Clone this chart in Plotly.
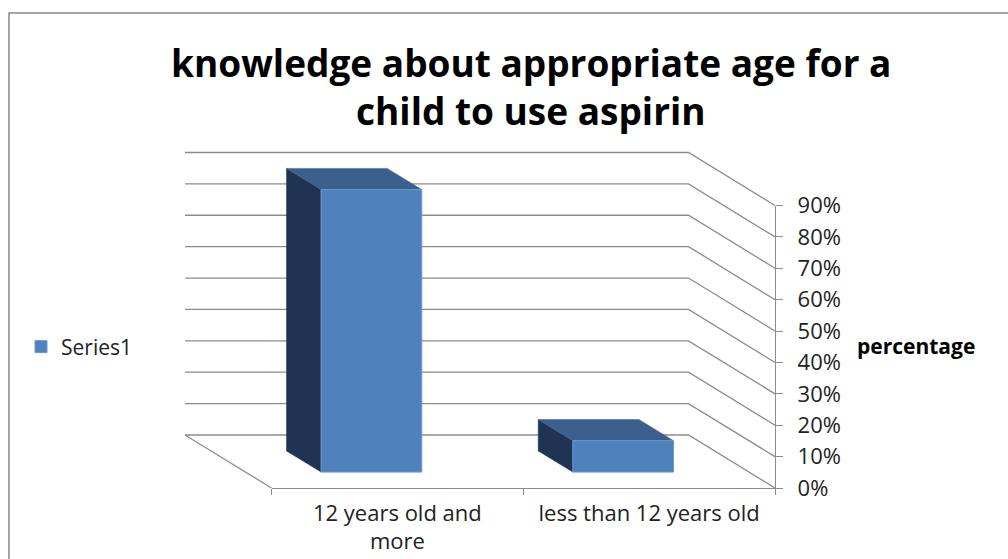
import plotly.graph_objects as go

# ---- data -------------------------------------------------------------
title_lines = ["knowledge about appropriate age for a", "child to use aspirin"]
categories = ["12 years old and<br>more", "less than 12 years old"]
values_pct = [90, 10]
series_name = "Series1"
pct_ticks = [0, 10, 20, 30, 40, 50, 60, 70, 80, 90]
pct_labels = ["0%", "10%", "20%", "30%", "40%", "50%", "60%", "70%", "80%", "90%"]
axis_title = "percentage"

# ---- layout geometry (pixels) -----------------------------------------
W, H = 1008, 559
BACK_LEFT, BACK_RIGHT = 185.0, 688.5      # back wall horizontal extent
FRONT_ZERO, FRONT_TOP = 488.0, 205.5      # front plane 0% and top tick
DEPTH_PX_X, DEPTH_PX_Y = 86.5, 53.0       # oblique depth offset

SX = (BACK_RIGHT - BACK_LEFT) / len(categories)       # px per category
SY = (FRONT_ZERO - FRONT_TOP) / pct_ticks[-1]         # px per percent
BACK_ZERO = FRONT_ZERO - DEPTH_PX_Y

DX = DEPTH_PX_X / SX        # depth offset in category units
DY = DEPTH_PX_Y / SY        # depth offset in percent units

BAR_W = 0.4                 # front face width (category units)
D0, D1 = 0.3, 0.7           # bar depth span (0 = back wall, 1 = front)

FONT = "Open Sans"
GRID = "#8C8C8C"
FRONT_C, TOP_C, SIDE_C = "#4F81BD", "#3B608E", "#1F3452"


def px(x):
    return BACK_LEFT + (x + 0.5) * SX


def py(y):
    return BACK_ZERO - y * SY


# main (back-plane) axes ranges with a little padding
xr = [-0.5 - 0.12, len(categories) - 0.5 + DX + 0.12]
yr = [-DY - 4, pct_ticks[-1] + 4]
xdom = [px(xr[0]) / W, px(xr[1]) / W]
ydom = [1 - py(yr[0]) / H, 1 - py(yr[1]) / H]

fig = go.Figure()

# back wall gridlines continuing along the right side wall
gx, gy = [], []
for v in pct_ticks:
    gx += [-0.5, len(categories) - 0.5, len(categories) - 0.5 + DX, None]
    gy += [v, v, v - DY, None]
# left floor edge
gx += [-0.5, -0.5 + DX, None]
gy += [0, -DY, None]
fig.add_trace(go.Scatter(x=gx, y=gy, mode="lines", line=dict(color=GRID, width=1.3),
                         hoverinfo="skip", showlegend=False))

# side and top faces of each column
for i, v in enumerate(values_pct):
    xl, xrgt = i - BAR_W / 2, i + BAR_W / 2
    side_x = [xl + D0 * DX, xl + D1 * DX, xl + D1 * DX, xl + D0 * DX, xl + D0 * DX]
    side_y = [-D0 * DY, -D1 * DY, v - D1 * DY, v - D0 * DY, -D0 * DY]
    fig.add_trace(go.Scatter(x=side_x, y=side_y, fill="toself", fillcolor=SIDE_C,
                             mode="lines", line=dict(color=SIDE_C, width=0.5),
                             hoverinfo="skip", showlegend=False))
    top_x = [xl + D0 * DX, xrgt + D0 * DX, xrgt + D1 * DX, xl + D1 * DX, xl + D0 * DX]
    top_y = [v - D0 * DY, v - D0 * DY, v - D1 * DY, v - D1 * DY, v - D0 * DY]
    fig.add_trace(go.Scatter(x=top_x, y=top_y, fill="toself", fillcolor=TOP_C,
                             mode="lines", line=dict(color=TOP_C, width=0.5),
                             hoverinfo="skip", showlegend=False))

# front faces: real bars on axes shifted to the bar-front plane
fig.add_trace(go.Bar(x=list(range(len(categories))), y=values_pct, width=BAR_W,
                     name=series_name, marker=dict(color=FRONT_C,
                                                   line=dict(color="#6A98CF", width=1)),
                     xaxis="x3", yaxis="y3", showlegend=True))

# front floor axis and right value axis
fig.add_trace(go.Scatter(x=categories, y=[None] * len(categories), xaxis="x2", yaxis="y2",
                         mode="markers", hoverinfo="skip", showlegend=False))

fig.update_layout(
    width=W, height=H,
    margin=dict(l=0, r=0, t=0, b=0, autoexpand=False),
    paper_bgcolor="white", plot_bgcolor="rgba(0,0,0,0)",
    font=dict(family=FONT, color="#222222"),
    xaxis=dict(domain=xdom, range=xr, visible=False, fixedrange=True),
    yaxis=dict(domain=ydom, range=yr, visible=False, fixedrange=True),
    xaxis3=dict(overlaying="x", range=[xr[0] - D1 * DX, xr[1] - D1 * DX], visible=False),
    yaxis3=dict(overlaying="y", range=[yr[0] + D1 * DY, yr[1] + D1 * DY], visible=False),
    xaxis2=dict(domain=[px(-0.5 + DX) / W, px(len(categories) - 0.5 + DX) / W],
                anchor="y2", type="category", categoryorder="array",
                categoryarray=categories, range=[-0.5, len(categories) - 0.5],
                tickson="boundaries", ticks="outside", ticklen=6, tickcolor=GRID,
                tickwidth=1.3, showline=True, linecolor=GRID, linewidth=1.3,
                showgrid=False, zeroline=False, automargin=False,
                tickfont=dict(family=FONT, size=22, color="#222222"),
                ticklabelstandoff=5),
    yaxis2=dict(domain=[1 - FRONT_ZERO / H, 1 - FRONT_TOP / H], anchor="x2", side="right",
                range=[0, pct_ticks[-1]], tickmode="array", tickvals=pct_ticks,
                ticktext=pct_labels, ticks="outside", ticklen=7, tickcolor=GRID,
                tickwidth=1.3, showline=True, linecolor=GRID, linewidth=1.3,
                showgrid=False, zeroline=False, automargin=False,
                tickfont=dict(family=FONT, size=22, color="#222222"),
                ticklabelstandoff=10),
    legend=dict(x=21 / W, xanchor="left", y=1 - 347 / H, yanchor="middle",
                bgcolor="rgba(0,0,0,0)", font=dict(family=FONT, size=21, color="#222222")),
    showlegend=True,
    shapes=[dict(type="rect", xref="paper", yref="paper", x0=9 / W, y0=-0.05,
                 x1=1.05, y1=1 - 13 / H, line=dict(color="#878787", width=1.5))],
)

# chart title, one annotation per line
for text, yc in zip(title_lines, [62, 111]):
    fig.add_annotation(text="<b>" + text + "</b>", xref="paper", yref="paper",
                       x=531 / W, y=1 - yc / H, xanchor="center", yanchor="middle",
                       showarrow=False, font=dict(family=FONT, size=37, color="#000000"))

# value axis title
fig.add_annotation(text="<b>" + axis_title + "</b>", xref="paper", yref="paper",
                   x=855 / W, y=1 - 346 / H, xanchor="left", yanchor="middle",
                   showarrow=False, font=dict(family=FONT, size=21, color="#000000"))

fig.write_html("out.html")
